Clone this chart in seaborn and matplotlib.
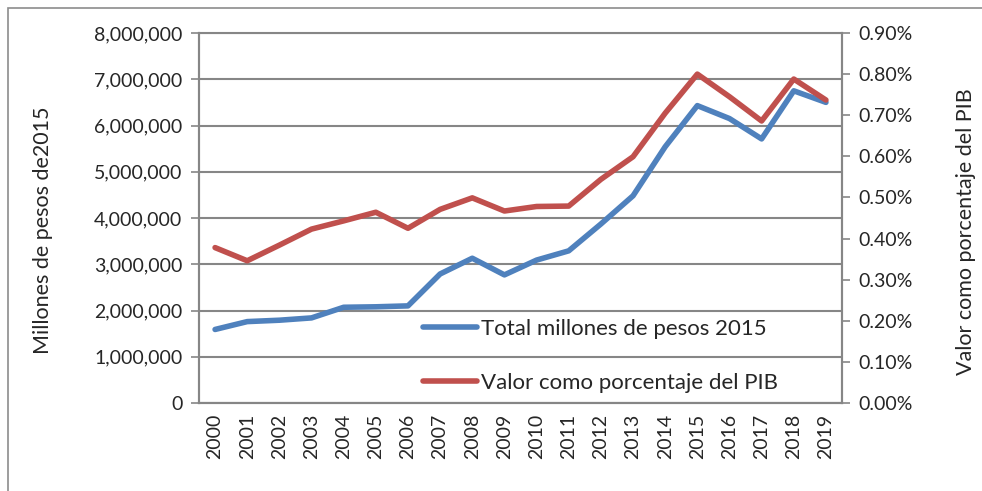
import numpy as np
import matplotlib
matplotlib.use('Agg')
import matplotlib.pyplot as plt
import matplotlib.ticker as mticker
from matplotlib.patches import Rectangle
import seaborn as sns

sns.set_style('white')
plt.rcParams['font.family'] = ['Lato', 'DejaVu Sans']

# datos
anios = ['2000', '2001', '2002', '2003', '2004', '2005', '2006', '2007', '2008', '2009',
         '2010', '2011', '2012', '2013', '2014', '2015', '2016', '2017', '2018', '2019']
total = [1590000, 1760000, 1790000, 1840000, 2070000, 2080000, 2100000, 2790000, 3130000, 2770000,
         3090000, 3290000, 3870000, 4480000, 5540000, 6430000, 6150000, 5710000, 6750000, 6500000]
porc_pib = [0.378, 0.346, 0.384, 0.423, 0.443, 0.464, 0.425, 0.471, 0.499, 0.467,
            0.478, 0.479, 0.544, 0.599, 0.705, 0.800, 0.745, 0.686, 0.788, 0.737]

azul = '#4F81BD'
rojo = '#C0504D'
gris = '#868686'
fs = 14

idx = np.arange(len(anios))

fig = plt.figure(figsize=(9.82, 4.91), dpi=100)
ax = fig.add_axes([199/982, 1-403/491, (842-199)/982, (403-33)/491])
ax2 = ax.twinx()

sns.lineplot(x=idx, y=total, ax=ax, color=azul, lw=4, label='Total millones de pesos 2015', legend=False)
sns.lineplot(x=idx, y=porc_pib, ax=ax2, color=rojo, lw=4, label='Valor como porcentaje del PIB', legend=False)

ax.set_xlim(-0.5, len(anios)-0.5)
ax.set_ylim(0, 8000000)
ax2.set_ylim(0, 0.9)
ax.yaxis.set_major_locator(mticker.MultipleLocator(1000000))
ax2.yaxis.set_major_locator(mticker.MultipleLocator(0.1))
ax.yaxis.set_major_formatter(mticker.FuncFormatter(lambda v, p: f'{v:,.0f}'))
ax2.yaxis.set_major_formatter(mticker.FuncFormatter(lambda v, p: f'{v:.2f}%'))

# eje de categorias: marcas entre anios, etiquetas al centro
ax.set_xticks(idx)
ax.set_xticklabels(anios, rotation=90, fontsize=fs)
ax.set_xticks(np.arange(-0.5, len(anios)), minor=True)
ax.tick_params(axis='x', which='major', length=0, pad=8)
ax.tick_params(axis='x', which='minor', length=6, width=1.2, color=gris, direction='out')

ax.grid(axis='y', color=gris, lw=1.5)
ax.grid(axis='x', visible=False)
ax2.grid(False)
ax.tick_params(axis='y', length=6, width=1.2, color=gris, direction='out', labelsize=fs, left=True, pad=6)
ax2.tick_params(axis='y', length=6, width=1.2, color=gris, direction='out', labelsize=fs, right=True, pad=6)

for a in (ax, ax2):
    a.spines['top'].set_visible(False)
    for s in ('left', 'right', 'bottom'):
        a.spines[s].set_color(gris)
        a.spines[s].set_linewidth(1.5)
ax.spines['top'].set_visible(True)
ax.spines['top'].set_color(gris)
ax.spines['top'].set_linewidth(1.5)

ax.set_ylabel('Millones de pesos de2015', fontsize=15.5)
ax2.set_ylabel('Valor como porcentaje del PIB', fontsize=15.5)
ax.yaxis.set_label_coords(-0.227, 0.468)
ax2.yaxis.set_label_coords(1.177, 0.464)

h1, l1 = ax.get_legend_handles_labels()
h2, l2 = ax2.get_legend_handles_labels()
ax2.legend(h1 + h2, l1 + l2, loc='upper left', bbox_to_anchor=(0.318, 0.282), frameon=False,
           fontsize=16, handlelength=2.4, handletextpad=0.2, labelspacing=1.55)

# marco del grafico
fig.patches.append(Rectangle((8/982, -0.2), 1.2, 1.2 - 8/491, transform=fig.transFigure,
                             fill=False, edgecolor='#8c8c8c', lw=1.2))

plt.savefig('out.png', dpi=100)
